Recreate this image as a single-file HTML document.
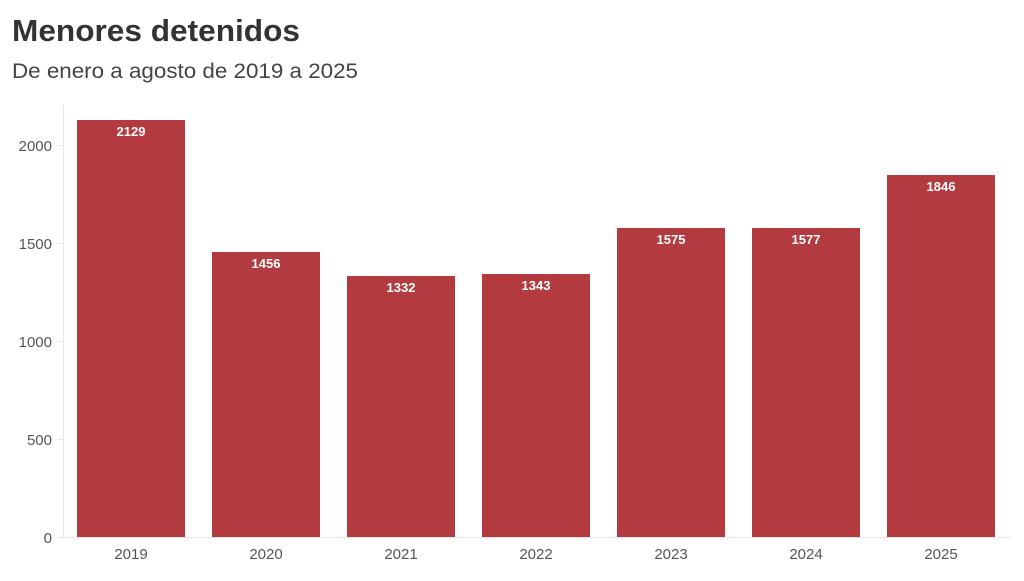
<!DOCTYPE html>
<html><head><meta charset="utf-8"><style>
body{margin:0;width:1024px;height:576px;background:#fff;overflow:hidden;font-family:"Liberation Sans",sans-serif}
</style></head><body>
<svg width="1024" height="576" xmlns="http://www.w3.org/2000/svg" font-family="Liberation Sans, sans-serif">
<text x="12" y="41" font-size="31" font-weight="bold" fill="#333" textLength="288" lengthAdjust="spacingAndGlyphs">Menores detenidos</text>
<text x="12" y="78" font-size="21" fill="#444" textLength="346" lengthAdjust="spacingAndGlyphs">De enero a agosto de 2019 a 2025</text>
<line x1="63.5" y1="105" x2="63.5" y2="537" stroke="#e6e6e6"/>
<line x1="57" y1="537.5" x2="1010" y2="537.5" stroke="#e6e6e6"/>
<g stroke="#e6e6e6">
<line x1="57" y1="145.5" x2="63" y2="145.5"/><line x1="57" y1="243.5" x2="63" y2="243.5"/><line x1="57" y1="341.5" x2="63" y2="341.5"/><line x1="57" y1="439.5" x2="63" y2="439.5"/>
</g>
<g font-size="15" fill="#555" text-anchor="end">
<text x="52" y="151">2000</text><text x="52" y="249">1500</text><text x="52" y="347">1000</text><text x="52" y="445">500</text><text x="52" y="543">0</text>
</g>
<g fill="#b33b40">
<rect x="77" y="120" width="108" height="417"/>
<rect x="212" y="252" width="108" height="285"/>
<rect x="347" y="276" width="108" height="261"/>
<rect x="482" y="274" width="108" height="263"/>
<rect x="617" y="228" width="108" height="309"/>
<rect x="752" y="228" width="108" height="309"/>
<rect x="887" y="175" width="108" height="362"/>
</g>
<g font-size="13" font-weight="bold" fill="#fff" text-anchor="middle">
<text x="131" y="136">2129</text><text x="266" y="268">1456</text><text x="401" y="292">1332</text><text x="536" y="290">1343</text><text x="671" y="244">1575</text><text x="806" y="244">1577</text><text x="941" y="191">1846</text>
</g>
<g font-size="15" fill="#555" text-anchor="middle">
<text x="131" y="559">2019</text><text x="266" y="559">2020</text><text x="401" y="559">2021</text><text x="536" y="559">2022</text><text x="671" y="559">2023</text><text x="806" y="559">2024</text><text x="941" y="559">2025</text>
</g>
</svg>
</body></html>
